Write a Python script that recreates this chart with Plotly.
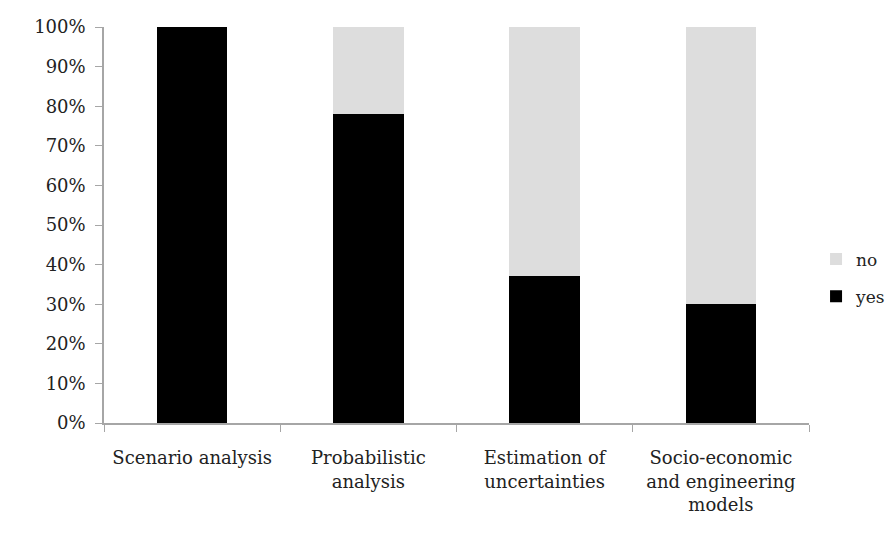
import plotly.graph_objects as go

categories = ["Scenario analysis", "Probabilistic<br>analysis", "Estimation of<br>uncertainties",
              "Socio-economic<br>and engineering<br>models"]
yes_values = [100, 78, 37, 30]
no_values = [0, 22, 63, 70]
y_ticks = [0, 10, 20, 30, 40, 50, 60, 70, 80, 90, 100]
y_tick_text = ["0%", "10%", "20%", "30%", "40%", "50%", "60%", "70%", "80%", "90%", "100%"]

FONT = "DejaVu Serif"

fig = go.Figure()
fig.add_trace(go.Bar(x=categories, y=yes_values, name="yes", legendgroup="yes", legendrank=2,
                     marker=dict(color="#000000", line=dict(width=0))))
fig.add_trace(go.Bar(x=categories, y=no_values, name="no", legendgroup="no", legendrank=1,
                     marker=dict(color="#dddddd", line=dict(width=0))))

fig.update_layout(
    width=885, height=539,
    barmode="stack", bargap=0.6,
    plot_bgcolor="white", paper_bgcolor="white",
    margin=dict(l=96, r=84, t=19, b=124, autoexpand=False),
    font=dict(family=FONT, size=18, color="#222222"),
    legend=dict(x=1.01, xanchor="left", y=0.366, yanchor="middle", traceorder="grouped",
                font=dict(family=FONT, size=17), itemwidth=30, tracegroupgap=12),
    showlegend=True,
)
fig.update_xaxes(showline=True, linecolor="#a6a6a6", linewidth=1.5, ticks="outside",
                 tickson="boundaries", ticklen=7, tickcolor="#a6a6a6", showgrid=False,
                 tickfont=dict(size=18), ticklabelstandoff=18, automargin=False)
fig.update_yaxes(range=[0, 100], tickvals=y_ticks, ticktext=y_tick_text, showline=True,
                 linecolor="#a6a6a6", linewidth=1.5, ticks="outside", ticklen=7,
                 tickcolor="#a6a6a6", showgrid=False, zeroline=False, tickfont=dict(size=18),
                 ticklabelstandoff=6, automargin=False)

fig.write_html("out.html")
